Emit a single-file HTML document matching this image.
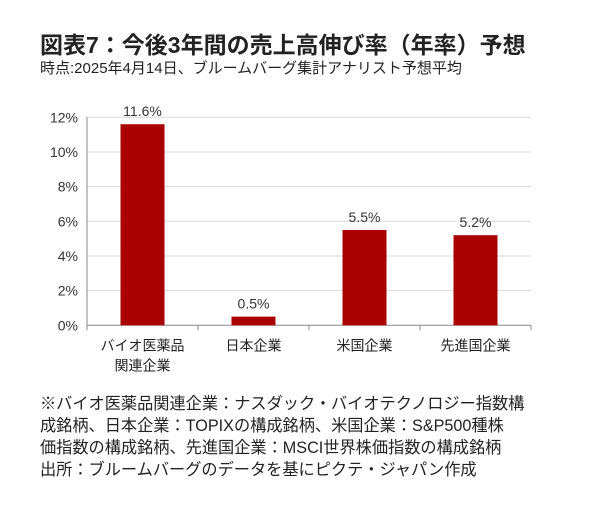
<!DOCTYPE html>
<html><head><meta charset="utf-8"><style>
body{margin:0;background:#fff;width:611px;height:508px;overflow:hidden;font-family:"Liberation Sans","Noto Sans CJK JP",sans-serif;color:#222}
#title{position:absolute;left:40px;top:26px;font-size:23px;font-weight:bold;white-space:nowrap}
#sub{position:absolute;left:40px;top:57px;font-size:15px;white-space:nowrap}
#notes{position:absolute;left:40px;top:393px;font-size:16.2px;line-height:22px;white-space:nowrap}
svg{position:absolute;left:0;top:0}
</style></head><body>
<div id="title">図表7：今後3年間の売上高伸び率（年率）予想</div>
<div id="sub">時点:2025年4月14日、ブルームバーグ集計アナリスト予想平均</div>
<svg id="chart" width="611" height="508"></svg>
<div id="notes">※バイオ医薬品関連企業：ナスダック・バイオテクノロジー指数構<br>成銘柄、日本企業：TOPIXの構成銘柄、米国企業：S&amp;P500種株<br>価指数の構成銘柄、先進国企業：MSCI世界株価指数の構成銘柄<br>出所：ブルームバーグのデータを基にピクテ・ジャパン作成</div>
<script>
const categories=[["バイオ医薬品","関連企業"],["日本企業"],["米国企業"],["先進国企業"]];
const values=[11.6,0.5,5.5,5.2];
const valueLabels=["11.6%","0.5%","5.5%","5.2%"];
const ticks=[0,2,4,6,8,10,12];
const NS="http://www.w3.org/2000/svg";
const svg=document.getElementById('chart');
const x0=87,x1=531,y0=325.3,y12=117.3;
const y=v=>y0-(v/12)*(y0-y12);
const cw=(x1-x0)/categories.length;
const cx=i=>x0+cw*(i+0.5);
function mk(t,a){const e=document.createElementNS(NS,t);for(const k in a)e.setAttribute(k,a[k]);svg.appendChild(e);return e;}
ticks.forEach(t=>{
 if(t>0){const g=mk('line',{x1:x0,x2:x1,y1:y(t),y2:y(t),stroke:'#d9d9d9','stroke-width':1});
 
 }
 const l=mk('text',{x:x0-9,y:y(t)+5,'text-anchor':'end','font-size':14,fill:'#333'});
 l.textContent=t+'%';
 
 
});
const ax=mk('line',{x1:x0,x2:x0,y1:y12,y2:y0,stroke:'#888'});


const bx=mk('line',{x1:x0,x2:x1,y1:y0,y2:y0,stroke:'#888'});


for(let i=0;i<=categories.length;i++){mk('line',{x1:x0+cw*i,x2:x0+cw*i,y1:y0,y2:y0+5,stroke:'#888'});}
values.forEach((v,i)=>{
 const b=mk('rect',{x:cx(i)-22,y:y(v),width:44,height:y0-y(v),fill:'#aa0000'});
 
 
 const t=mk('text',{x:cx(i),y:y(v)-8,'text-anchor':'middle','font-size':14,fill:'#333'});
 t.textContent=valueLabels[i];
 
 
 categories[i].forEach((s,j)=>{
  const c=mk('text',{x:cx(i),y:y0+25+j*20,'text-anchor':'middle','font-size':14,fill:'#222'});
  c.textContent=s;
  
  
 });
});
</script>
</body></html>
